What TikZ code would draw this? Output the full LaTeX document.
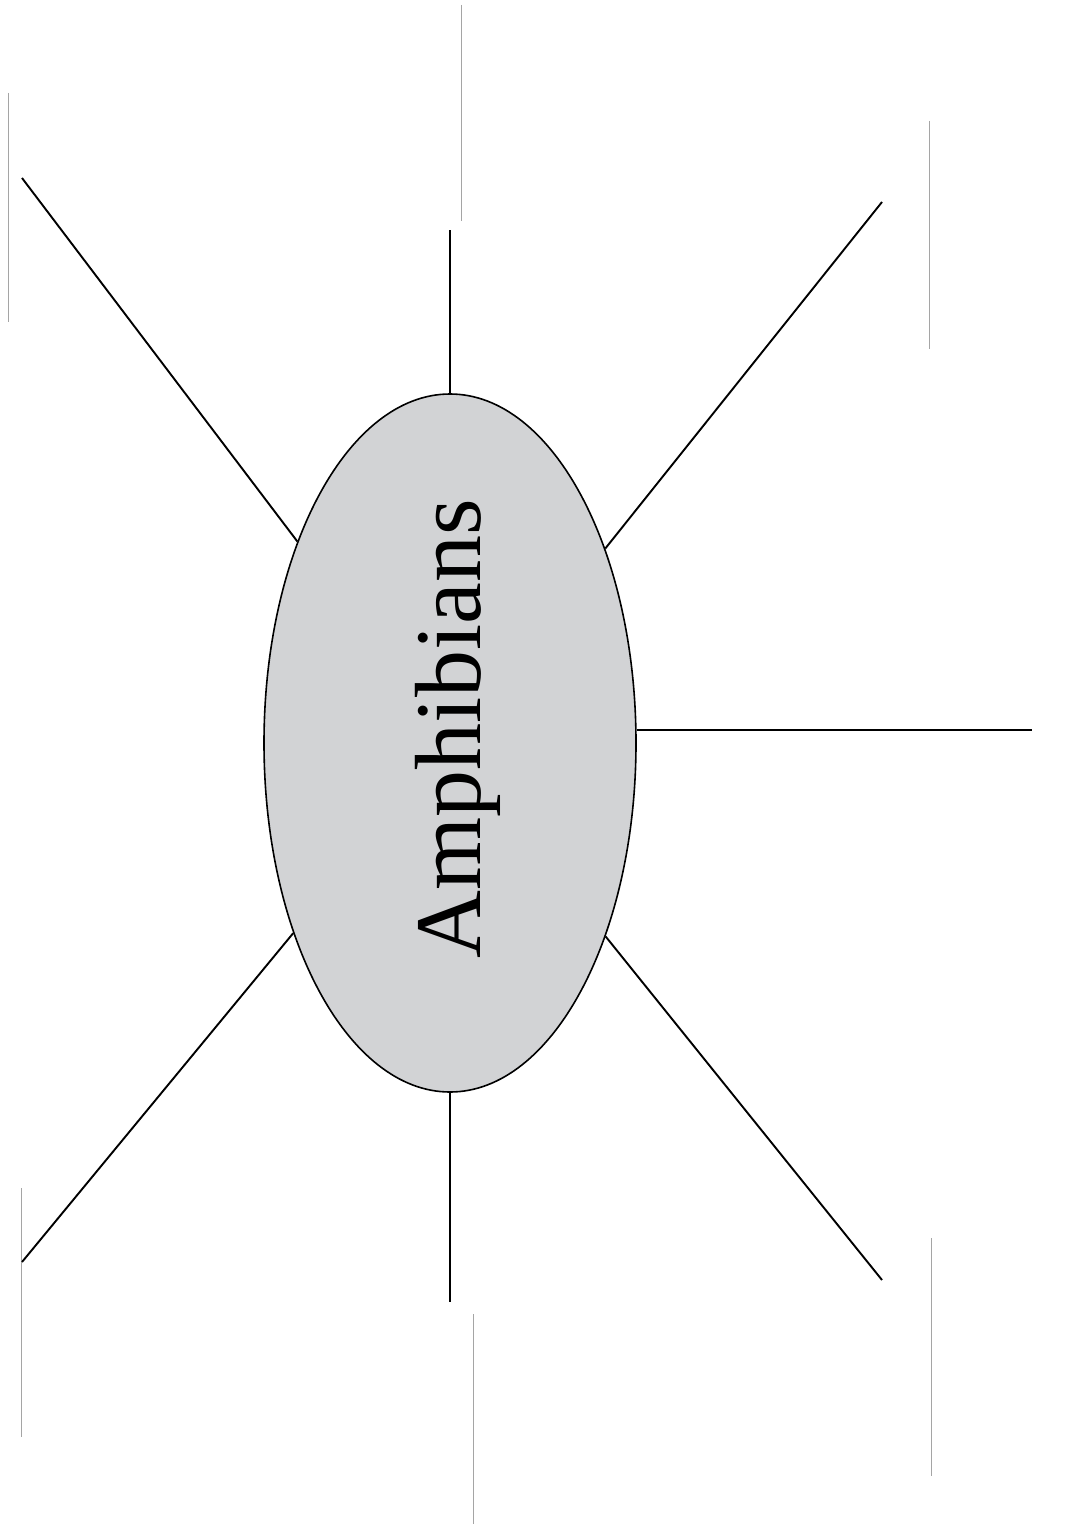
\documentclass[tikz,border=0pt]{standalone}
\usepackage{fontspec}
\setmainfont{Liberation Serif}
\usetikzlibrary{shapes.geometric}
\definecolor{ovalfill}{RGB}{210,211,213}
\definecolor{guide}{RGB}{165,165,165}
\tikzset{
  spoke/.style={draw=black, line width=1.9pt},
  guideline/.style={draw=guide, line width=1pt},
  oval/.style={ellipse, draw=black, line width=1.6pt, fill=ovalfill, inner sep=0pt, minimum width=372pt, minimum height=698pt},
  title/.style={rotate=90, anchor=base, inner sep=0pt, font=\fontsize{94}{94}\selectfont}
}
\begin{document}
\begin{tikzpicture}[x=1pt, y=-1pt]
\useasboundingbox (0,0) rectangle (1078,1525);
\fill[white] (0,0) rectangle (1078,1525);
% guide lines
\coordinate (g1a) at (8,93);   \coordinate (g1b) at (8,322);
\coordinate (g2a) at (461,5);  \coordinate (g2b) at (461,221);
\coordinate (g3a) at (929,121); \coordinate (g3b) at (929,349);
\coordinate (g4a) at (21,1188); \coordinate (g4b) at (21,1437);
\coordinate (g5a) at (473,1314); \coordinate (g5b) at (473,1524);
\coordinate (g6a) at (931,1238); \coordinate (g6b) at (931,1476);
\foreach \g in {1,...,6} \draw[guideline] (g\g a) -- (g\g b);
% central oval
\node[oval] (c) at (450,743) {};
\node[title] (t) at (480,729) {Amphibians};
% spoke ends
\coordinate (n) at (450,230);
\coordinate (s) at (450,1302);
\coordinate (e) at (1032,730);
\coordinate (nw) at (22,178);
\coordinate (ne) at (882,202);
\coordinate (sw) at (22,1262);
\coordinate (se) at (882,1280);
\draw[spoke] (c.north) -- (n);
\draw[spoke] (c.south) -- (s);
\draw[spoke] (c.east |- e) -- (e);
\draw[spoke] (c) -- (nw);
\draw[spoke] (c) -- (ne);
\draw[spoke] (c) -- (sw);
\draw[spoke] (c) -- (se);
\end{tikzpicture}
\end{document}
